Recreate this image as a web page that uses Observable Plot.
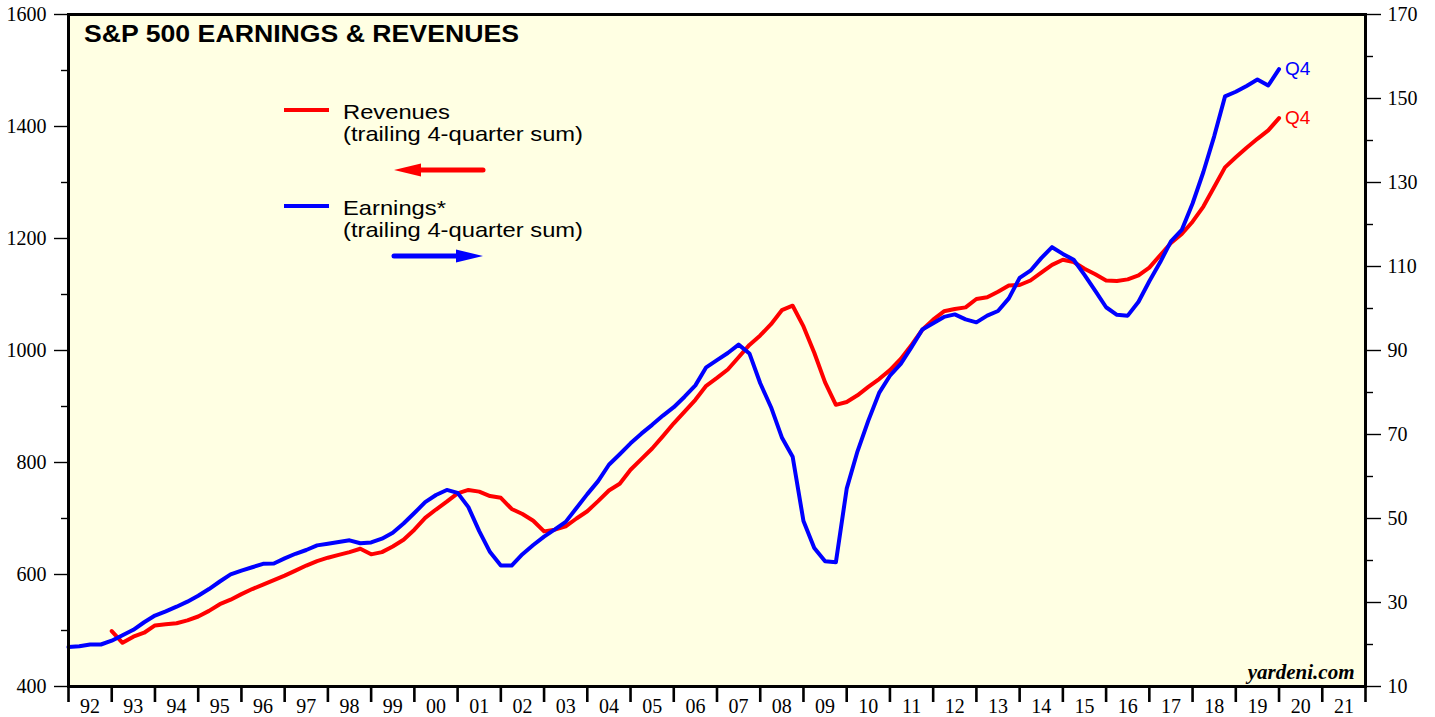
<!DOCTYPE html>
<html>
<head>
<meta charset="utf-8">
<script src="https://cdn.jsdelivr.net/npm/d3@7"></script>
<script src="https://cdn.jsdelivr.net/npm/@observablehq/plot@0.6"></script>
<style>
  body { margin: 0; background: #ffffff; }
  #chart svg { display: block; }
</style>
</head>
<body>
<div id="chart"></div>
<script>
// ---------------- DATA ----------------
// S&P 500 earnings (trailing 4-quarter sum, $ per share, right axis), quarterly from 1991Q4
const earningsStart = "1991Q4";
const earnings = [
  19.4, 19.6, 20.0, 20.0, 20.9, 22.2, 23.5, 25.3, 26.9, 27.9,
  29.0, 30.2, 31.6, 33.2, 35.0, 36.7, 37.6, 38.4, 39.2, 39.3,
  40.5, 41.6, 42.5, 43.6, 44.0, 44.4, 44.8, 44.1, 44.3, 45.2,
  46.6, 48.8, 51.3, 53.9, 55.6, 56.8, 56.1, 52.7, 47.0, 42.0,
  38.8, 38.8, 41.5, 43.7, 45.7, 47.4, 49.2, 52.5, 55.8, 58.9,
  62.8, 65.3, 67.9, 70.2, 72.3, 74.5, 76.5, 79.0, 81.7, 86.0,
  87.7, 89.4, 91.4, 89.3, 82.2, 76.5, 69.3, 64.7, 49.4, 43.0,
  39.8, 39.6, 57.1, 66.0, 73.3, 79.9, 84.0, 86.8, 90.8, 95.0,
  96.5, 98.0, 98.6, 97.4, 96.7, 98.3, 99.4, 102.4, 107.3, 109.0,
  112.0, 114.6, 113.0, 111.6, 108.0, 104.2, 100.3, 98.5, 98.3, 101.6,
  106.5, 111.0, 116.0, 118.7, 125.0, 132.5, 141.0, 150.5, 151.6, 153.0,
  154.5, 153.1, 157.0
];
// S&P 500 revenues (trailing 4-quarter sum, $ per share, left axis), quarterly from 1992Q4
const revenuesStart = "1992Q4";
const revenues = [
  499, 478, 489, 496, 509, 511, 513, 518, 525, 535,
  547, 555, 565, 574, 582, 590, 598, 607, 616, 624,
  630, 635, 640, 646, 636, 640, 650, 662, 680, 701,
  716, 730, 745, 751, 748, 740, 737, 717, 708, 696,
  677, 680, 686, 700, 713, 731, 750, 762, 787, 806,
  825, 847, 870, 891, 912, 937, 951, 966, 988, 1010,
  1027, 1047, 1072, 1080, 1043, 996, 943, 903, 908, 920,
  935, 949, 965, 985, 1010, 1037, 1055, 1070, 1074, 1077,
  1092, 1095, 1105, 1116, 1117, 1125, 1139, 1153, 1162, 1158,
  1146, 1136, 1125, 1124, 1127, 1134, 1148, 1170, 1192, 1208,
  1230, 1257, 1292, 1327, 1345, 1362, 1378, 1393, 1415
];
const lastLabel = "Q4";

// Axis ticks
const yearTicks = d3.range(1992, 2023);
const yearLabels = ["92","93","94","95","96","97","98","99","00","01","02","03","04","05","06",
                    "07","08","09","10","11","12","13","14","15","16","17","18","19","20","21"];
const leftTicks = [400, 600, 800, 1000, 1200, 1400, 1600];
const leftMinorTicks = [500, 700, 900, 1100, 1300, 1500];
const rightTicks = [10, 30, 50, 70, 90, 110, 130, 150, 170];
const rightMinorTicks = [20, 40, 60, 80, 100, 120, 140, 160];

// Text
const titleText = "S&P 500 EARNINGS & REVENUES";
const legendRevenues = ["Revenues", "(trailing 4-quarter sum)"];
const legendEarnings = ["Earnings*", "(trailing 4-quarter sum)"];
const sourceText = "yardeni.com";

// ---------------- STYLE / LAYOUT ----------------
const RED = "#ff0000", BLUE = "#0000ff", BG = "#ffffe3";
const SANS = "'Liberation Sans', Arial, sans-serif";
const SERIF = "'Liberation Serif', 'Times New Roman', serif";
const STRETCH = 1.13;
const TITLE_WIDTH = 435;

// right axis (earnings) mapped onto left axis units
const toLeft = e => 400 + (e - 10) * 7.5;
const fromLeft = l => Math.round(10 + (l - 400) / 7.5);
const quarterToYear = q => +q.slice(0, 4) + (+q.slice(5)) * 0.25;

const e0 = quarterToYear(earningsStart);
const earningsData = earnings.map((v, i) => ({t: e0 + i * 0.25, v, y: toLeft(v)}));
const r0 = quarterToYear(revenuesStart);
const revenueData = revenues.map((v, i) => ({t: r0 + i * 0.25, v, y: v}));

const axisText = {fontFamily: SERIF, fontSize: 20};

const plot = Plot.plot({
  width: 1435,
  height: 717,
  marginLeft: 68,
  marginRight: 70,
  marginTop: 14,
  marginBottom: 31,
  style: {background: "transparent", fontFamily: SERIF, fontSize: "20px", color: "#000", overflow: "visible"},
  x: {domain: [1992, 2022], label: null},
  y: {domain: [400, 1600], label: null},
  marks: [
    Plot.frame({fill: BG, stroke: null}),
    Plot.axisY(leftMinorTicks, {anchor: "left", tickSize: 7, tickFormat: () => "", label: null, strokeWidth: 1.4}),
    Plot.axisY(leftTicks, {anchor: "left", tickSize: 14, tickPadding: 8, label: null, strokeWidth: 1.4, ...axisText, tickFormat: d => String(d)}),
    Plot.axisY(rightMinorTicks.map(toLeft), {anchor: "right", tickSize: 7, tickFormat: () => "", label: null, strokeWidth: 1.4}),
    Plot.axisY(rightTicks.map(toLeft), {anchor: "right", tickSize: 15, tickPadding: 7, label: null, strokeWidth: 1.4, ...axisText, tickFormat: d => String(fromLeft(d))}),
    Plot.axisX(yearTicks, {anchor: "bottom", tickSize: 16, tickFormat: () => "", label: null, strokeWidth: 2.6}),
    Plot.axisX(yearTicks.slice(0, -1).map(y => y + 0.5), {anchor: "bottom", tickSize: 0, tickPadding: 12, label: null, ...axisText,
      tickFormat: d => yearLabels[yearTicks.indexOf(d - 0.5)]}),
    Plot.line(revenueData, {x: "t", y: "y", stroke: RED, strokeWidth: 4}),
    Plot.line(earningsData, {x: "t", y: "y", stroke: BLUE, strokeWidth: 4}),
    Plot.text([revenueData[revenueData.length - 1]], {x: "t", y: "y", text: () => lastLabel, fill: RED, dx: 6,
      textAnchor: "start", fontFamily: SANS, fontSize: 19}),
    Plot.text([earningsData[earningsData.length - 1]], {x: "t", y: "y", text: () => lastLabel, fill: BLUE, dx: 6,
      textAnchor: "start", fontFamily: SANS, fontSize: 19}),
    Plot.text([sourceText], {frameAnchor: "bottom-right", dx: -11, dy: -8, fontFamily: SERIF, fontWeight: "bold",
      fontStyle: "italic", fontSize: 21, fill: "#000", textAnchor: "end", lineAnchor: "bottom"}),
    Plot.frame({stroke: "#000", strokeWidth: 3})
  ]
});

document.getElementById("chart").appendChild(plot);

const svg = d3.select(plot);
// make sure the axis tick labels use the serif face of the reference
svg.selectAll("[aria-label*='tick label']").attr("font-family", SERIF).attr("font-size", 20)
  .style("font-family", SERIF).style("font-size", "20px");
svg.selectAll("[aria-label*='tick label'] text").style("font-family", SERIF);

// ---------------- ANNOTATIONS (title + legend) ----------------
const ann = svg.append("g").attr("class", "annotations").attr("text-anchor", "start");

ann.append("text")
  .attr("x", 84).attr("y", 42).attr("text-anchor", "start")
  .attr("font-family", SANS).attr("font-weight", "bold").attr("font-size", 23.5)
  .attr("textLength", TITLE_WIDTH).attr("lengthAdjust", "spacingAndGlyphs")
  .attr("fill", "#000").text(titleText);

function legendItem(color, lines, lineY, textY, arrowY, pointLeft) {
  ann.append("line").attr("x1", 284).attr("x2", 329).attr("y1", lineY).attr("y2", lineY)
    .attr("stroke", color).attr("stroke-width", 4);
  lines.forEach((s, i) => {
    ann.append("text").attr("class", "stretch")
      .attr("x", 343).attr("y", textY + i * 22).attr("text-anchor", "start")
      .attr("font-family", SANS).attr("font-size", 21).attr("fill", "#000").text(s);
  });
  const x0 = 394, x1 = 483, head = 27, hh = 6.5;
  if (pointLeft) {
    ann.append("line").attr("x1", x0 + head - 2).attr("x2", x1).attr("y1", arrowY).attr("y2", arrowY)
      .attr("stroke", color).attr("stroke-width", 5).attr("stroke-linecap", "round");
    ann.append("path").attr("d", `M${x0},${arrowY}L${x0 + head},${arrowY - hh}L${x0 + head},${arrowY + hh}Z`).attr("fill", color);
  } else {
    ann.append("line").attr("x1", x0).attr("x2", x1 - head + 2).attr("y1", arrowY).attr("y2", arrowY)
      .attr("stroke", color).attr("stroke-width", 5).attr("stroke-linecap", "round");
    ann.append("path").attr("d", `M${x1},${arrowY}L${x1 - head},${arrowY - hh}L${x1 - head},${arrowY + hh}Z`).attr("fill", color);
  }
}
legendItem(RED, legendRevenues, 110, 119, 170, true);
legendItem(BLUE, legendEarnings, 206, 215, 256, false);

// horizontal stretch of sans legend texts to match the reference's wide lettering
svg.selectAll("text.stretch").each(function () {
  const w = this.getComputedTextLength();
  this.setAttribute("textLength", (w * STRETCH).toFixed(1));
  this.setAttribute("lengthAdjust", "spacingAndGlyphs");
});
</script>
</body>
</html>
